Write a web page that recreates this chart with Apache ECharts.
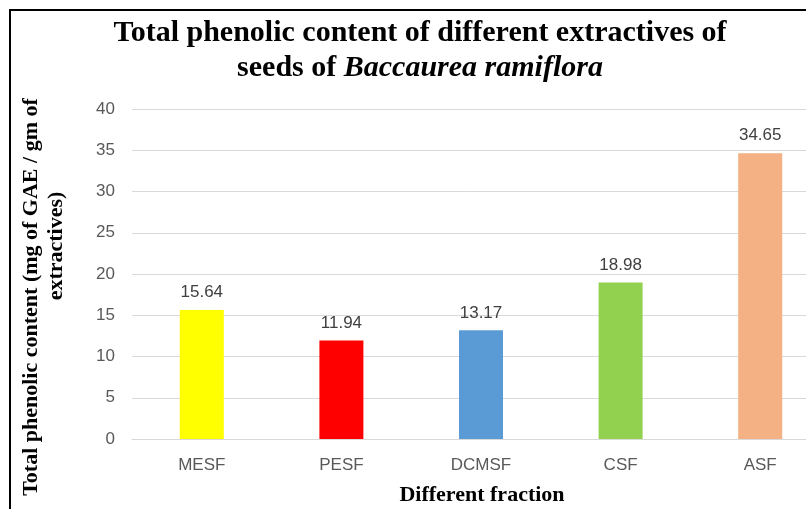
<!DOCTYPE html>
<html>
<head>
<meta charset="utf-8">
<script src="https://cdn.jsdelivr.net/npm/echarts@6/dist/echarts.min.js"></script>
<style>
html,body{margin:0;padding:0;background:#fff;}
#chart{width:806px;height:509px;}
</style>
</head>
<body>
<div id="chart"></div>
<script>
// ---- data ----
const categories = ['MESF', 'PESF', 'DCMSF', 'CSF', 'ASF'];
const phenolicValues = [15.64, 11.94, 13.17, 18.98, 34.65];
const yTicks = [0, 5, 10, 15, 20, 25, 30, 35, 40];
const titleLine1 = 'Total phenolic content of different extractives of';
const titleLine2Plain = 'seeds of ';
const titleLine2Italic = 'Baccaurea ramiflora';
const yTitleLine1 = 'Total phenolic content (mg of GAE / gm of';
const yTitleLine2 = 'extractives)';
const xTitle = 'Different fraction';

// ---- styles ----
const barColors = ['#FFFF00', '#FF0000', '#5B9BD5', '#92D050', '#F4B183'];
const serif = '"Liberation Serif", "Times New Roman", serif';
const sans = '"Liberation Sans", Arial, sans-serif';

const chart = echarts.init(document.getElementById('chart'), null, {renderer: 'canvas'});

chart.setOption({
  backgroundColor: '#ffffff',
  animation: false,
  grid: {
    left: 132, top: 109, width: 698, height: 330,
    containLabel: false, outerBoundsMode: 'none'
  },
  xAxis: {
    type: 'category',
    data: categories,
    axisLine: {show: true, lineStyle: {color: '#d9d9d9', width: 1}},
    axisTick: {show: false},
    axisLabel: {color: '#595959', fontSize: 17, fontFamily: sans, margin: 18}
  },
  yAxis: {
    type: 'value',
    min: yTicks[0],
    max: yTicks[yTicks.length - 1],
    interval: yTicks[1] - yTicks[0],
    axisLine: {show: false},
    axisTick: {show: false},
    splitLine: {show: true, lineStyle: {color: '#d9d9d9', width: 1}},
    axisLabel: {color: '#595959', fontSize: 17, fontFamily: sans, margin: 17}
  },
  series: [{
    type: 'bar',
    data: phenolicValues.map((v, i) => ({value: v, itemStyle: {color: barColors[i]}})),
    barWidth: 44,
    label: {
      show: true,
      position: 'top',
      distance: 9,
      color: '#404040',
      fontSize: 17,
      fontFamily: sans,
      formatter: p => p.value.toFixed(2)
    }
  }],
  graphic: [
    {
      type: 'rect',
      shape: {x: 10, y: 10, width: 900, height: 700},
      style: {fill: 'none', stroke: '#000', lineWidth: 2},
      silent: true
    },
    {
      type: 'text', x: 420, y: 33,
      style: {
        text: titleLine1, fill: '#000',
        fontSize: 30, fontWeight: 'bold', fontFamily: serif,
        align: 'center', verticalAlign: 'middle'
      }
    },
    {
      type: 'text', x: 420, y: 68,
      style: {
        text: titleLine2Plain + '{i|' + titleLine2Italic + '}', fill: '#000',
        fontSize: 30, fontWeight: 'bold', fontFamily: serif,
        align: 'center', verticalAlign: 'middle',
        rich: {i: {fontSize: 30, fontWeight: 'bold', fontStyle: 'italic', fontFamily: serif, fill: '#000'}}
      }
    },
    {
      type: 'text', x: 31, y: 297, rotation: Math.PI / 2,
      style: {
        text: yTitleLine1, fill: '#000',
        fontSize: 22, fontWeight: 'bold', fontFamily: serif,
        align: 'center', verticalAlign: 'middle'
      }
    },
    {
      type: 'text', x: 56, y: 246, rotation: Math.PI / 2,
      style: {
        text: yTitleLine2, fill: '#000',
        fontSize: 22, fontWeight: 'bold', fontFamily: serif,
        align: 'center', verticalAlign: 'middle'
      }
    },
    {
      type: 'text', x: 482, y: 495,
      style: {
        text: xTitle, fill: '#000',
        fontSize: 22, fontWeight: 'bold', fontFamily: serif,
        align: 'center', verticalAlign: 'middle'
      }
    }
  ]
});
</script>
</body>
</html>
